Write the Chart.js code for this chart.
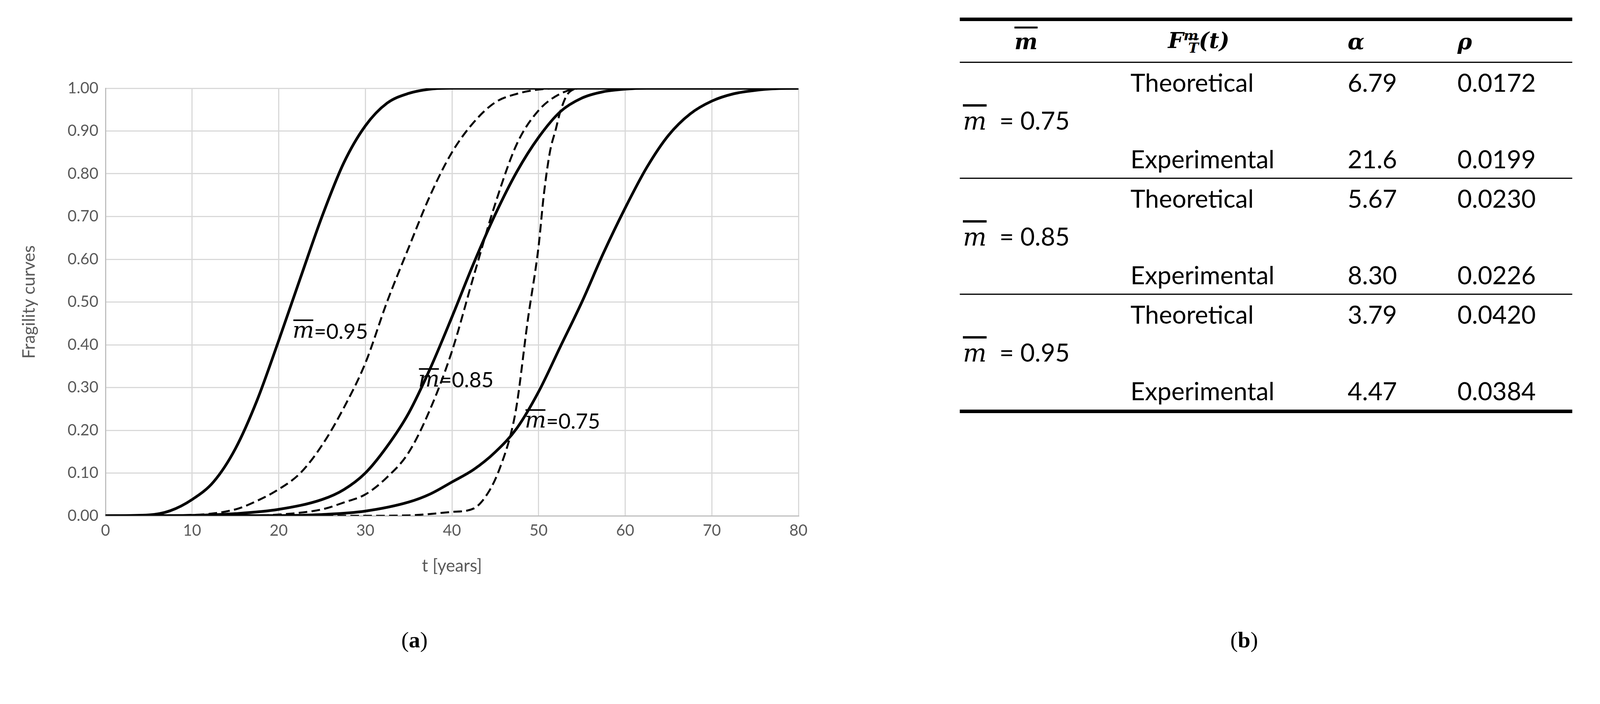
<!DOCTYPE html>
<html>
<head>
<meta charset="utf-8">
<script src="https://cdn.jsdelivr.net/npm/chart.js@4"></script>
<style>
  body { margin: 0; background: #fff; width: 4268px; height: 1803px; position: relative; overflow: hidden; font-family: Lato, "Open Sans", sans-serif; }
  #wrap { position: absolute; left: 0; top: 0; width: 2100px; height: 1480px; }
  .cap { position: absolute; font-size: 58px; color: #000; font-family: "Liberation Serif", serif; transform: translateX(-50%); }
  .mb { font-family: "DejaVu Serif", serif; font-style: italic; font-weight: bold; }
  table { position: absolute; left: 2457px; top: 45px; width: 1568px; border-collapse: collapse; font-size: 64px; border-top: 9px solid #000; border-bottom: 9px solid #000; table-layout: fixed; }
  td, th { padding: 0; height: 98px; text-align: left; vertical-align: middle; white-space: nowrap; }
  th { height: 104px; border-bottom: 3px solid #000; font-weight: bold; font-size: 56px; }
  tr.sep td { border-bottom: 3px solid #000; }
  .ov { text-decoration: overline; font-family: "DejaVu Serif", serif; font-style: italic; }
</style>
</head>
<body>
<div id="wrap"><canvas id="c"></canvas></div>
<div class="cap" style="left:1061px;top:1605px">(<b>a</b>)</div>
<div class="cap" style="left:3185px;top:1605px">(<b>b</b>)</div>
<table id="tbl"></table>
<script>
// ---- data ----
const tTheo95 = [0, 5, 7.5, 10, 12.5, 15, 17.5, 20, 22.5, 25, 27.5, 30, 32.5, 35, 37.5, 40, 45, 80];
const fTheo95 = [0, 0.002, 0.012, 0.038, 0.08, 0.157, 0.27, 0.41, 0.556, 0.70, 0.825, 0.912, 0.965, 0.988, 0.998, 1, 1, 1];
const tExp95  = [0, 10, 15, 17.5, 20, 22.5, 25, 27.5, 30, 32.5, 35, 37.5, 40, 42.5, 45, 47.5, 50, 52.5, 80];
const fExp95  = [0, 0.002, 0.015, 0.035, 0.062, 0.10, 0.165, 0.252, 0.357, 0.50, 0.627, 0.75, 0.85, 0.92, 0.967, 0.987, 0.997, 1, 1];
const tTheo85 = [0, 10, 15, 20, 25, 27.5, 30, 32.5, 35, 37.5, 40, 42.5, 45, 47.5, 50, 52.5, 55, 57.5, 60, 62.5, 80];
const fTheo85 = [0, 0.001, 0.005, 0.015, 0.038, 0.061, 0.10, 0.162, 0.24, 0.345, 0.465, 0.59, 0.705, 0.805, 0.885, 0.945, 0.977, 0.992, 0.998, 1, 1];
const tExp85  = [0, 15, 20, 25, 27.5, 30, 32.5, 35, 37.5, 40, 42.5, 45, 47.5, 50, 52.5, 55, 80];
const fExp85  = [0, 0.0005, 0.003, 0.015, 0.031, 0.05, 0.09, 0.148, 0.25, 0.385, 0.56, 0.73, 0.87, 0.948, 0.987, 1, 1];
const tTheo75 = [0, 20, 25, 30, 35, 37.5, 40, 42.5, 45, 47.5, 50, 52.5, 55, 57.5, 60, 62.5, 65, 67.5, 70, 72.5, 75, 77.5, 80];
const fTheo75 = [0, 0.0005, 0.003, 0.011, 0.032, 0.051, 0.079, 0.108, 0.149, 0.205, 0.29, 0.395, 0.50, 0.615, 0.72, 0.815, 0.89, 0.94, 0.97, 0.987, 0.995, 0.999, 1];
const tExp75  = [0, 30, 35, 40, 42.5, 44.3, 45.5, 46.9, 47.5, 48.75, 50, 50.6, 51.3, 52, 52.5, 53.5, 55, 80];
const fExp75  = [0, 0, 0.001, 0.009, 0.017, 0.058, 0.11, 0.20, 0.262, 0.457, 0.63, 0.75, 0.85, 0.905, 0.945, 0.99, 1, 1];

const xTicks = [0, 10, 20, 30, 40, 50, 60, 70, 80];
const curveLabels = ['0.95', '0.85', '0.75'];
const labelT = [21.6, 36.1, 48.4];
const labelF = [0.43, 0.316, 0.22];

// table
const tblM     = ['0.75', '0.85', '0.95'];
const tblAlpha = [['6.79', '21.6'], ['5.67', '8.30'], ['3.79', '4.47']];
const tblRho   = [['0.0172', '0.0199'], ['0.0230', '0.0226'], ['0.0420', '0.0384']];

const zip = (t, f) => t.map((x, i) => ({ x, y: f[i] }));
const ds = (t, f, dashed) => ({
    data: zip(t, f), showLine: true, pointRadius: 0, borderColor: '#000',
    borderWidth: dashed ? 5 : 7, borderDash: dashed ? [22, 11] : [],
    cubicInterpolationMode: 'monotone', fill: false,
});

const labelPlugin = {
    id: 'curveLabels',
    afterDatasetsDraw(chart) {
        const { ctx, scales: { x, y } } = chart;
        ctx.save();
        ctx.textBaseline = 'middle';
        curveLabels.forEach((lab, i) => {
            const px = x.getPixelForValue(labelT[i]);
            const py = y.getPixelForValue(labelF[i]);
            ctx.font = 'italic 58px "DejaVu Serif"';
            const mw = ctx.measureText('m').width;
            ctx.fillStyle = '#000';
            ctx.fillText('m', px, py);
            ctx.fillRect(px + 2, py - 32, mw - 4, 4);
            ctx.font = '54px Lato';
            ctx.fillText('=' + lab, px + mw, py);
        });
        ctx.restore();
    },
};

new Chart(document.getElementById('c'), {
    type: 'scatter',
    data: { datasets: [
        ds(tTheo95, fTheo95, false), ds(tExp95, fExp95, true),
        ds(tTheo85, fTheo85, false), ds(tExp85, fExp85, true),
        ds(tTheo75, fTheo75, false), ds(tExp75, fExp75, true),
    ]},
    options: {
        responsive: true, maintainAspectRatio: false, animation: false,
        layout: { padding: { top: 226, right: 56, left: 0, bottom: 0 } },
        plugins: { legend: { display: false }, tooltip: { enabled: false } },
        scales: {
            x: {
                type: 'linear', min: 0, max: 80,
                afterBuildTicks: s => { s.ticks = xTicks.map(v => ({ value: v })); },
                afterFit: s => { s.height = 159; },
                grid: { color: '#d9d9d9', lineWidth: 3, drawTicks: false },
                border: { color: '#bfbfbf', width: 3 },
                ticks: { color: '#595959', font: { size: 40, family: 'Lato' }, padding: 14 },
                title: { display: true, text: 't [years]', color: '#595959', font: { size: 44, family: 'Lato' }, padding: { top: 4 } },
            },
            y: {
                min: 0, max: 1,
                afterFit: s => { s.width = 270; },
                grid: { color: '#d9d9d9', lineWidth: 3, drawTicks: false },
                border: { color: '#bfbfbf', width: 3 },
                ticks: { stepSize: 0.1, color: '#595959', font: { size: 40, family: 'Lato' }, padding: 18,
                         callback: v => Number(v).toFixed(2) },
                title: { display: true, text: 'Fragility curves', color: '#595959', font: { size: 44, family: 'Lato' }, padding: { top: 48, bottom: 0 } },
            },
        },
    },
    plugins: [labelPlugin],
});

// table build
const tbl = document.getElementById('tbl');
let html = `<colgroup><col style="width:437px"><col style="width:556px"><col style="width:281px"><col></colgroup>
  <tr><th style="padding-left:140px" class="mb"><span style="text-decoration:overline">m</span></th>
  <th style="padding-left:96px" class="mb">F<sup style="font-size:36px">m</sup><sub style="font-size:36px;margin-left:-26px"><span style="text-decoration:overline">T</span></sub>(t)</th>
  <th class="mb">α</th><th class="mb">ρ</th></tr>`;
tblM.forEach((m, i) => {
    html += `<tr><td></td><td>Theoretical</td><td>${tblAlpha[i][0]}</td><td>${tblRho[i][0]}</td></tr>`;
    html += `<tr><td style="padding-left:8px"><span class="ov">m</span> &nbsp;= ${m}</td><td></td><td></td><td></td></tr>`;
    html += `<tr class="${i < 2 ? 'sep' : ''}"><td></td><td>Experimental</td><td>${tblAlpha[i][1]}</td><td>${tblRho[i][1]}</td></tr>`;
});
tbl.innerHTML = html;
</script>
</body>
</html>
